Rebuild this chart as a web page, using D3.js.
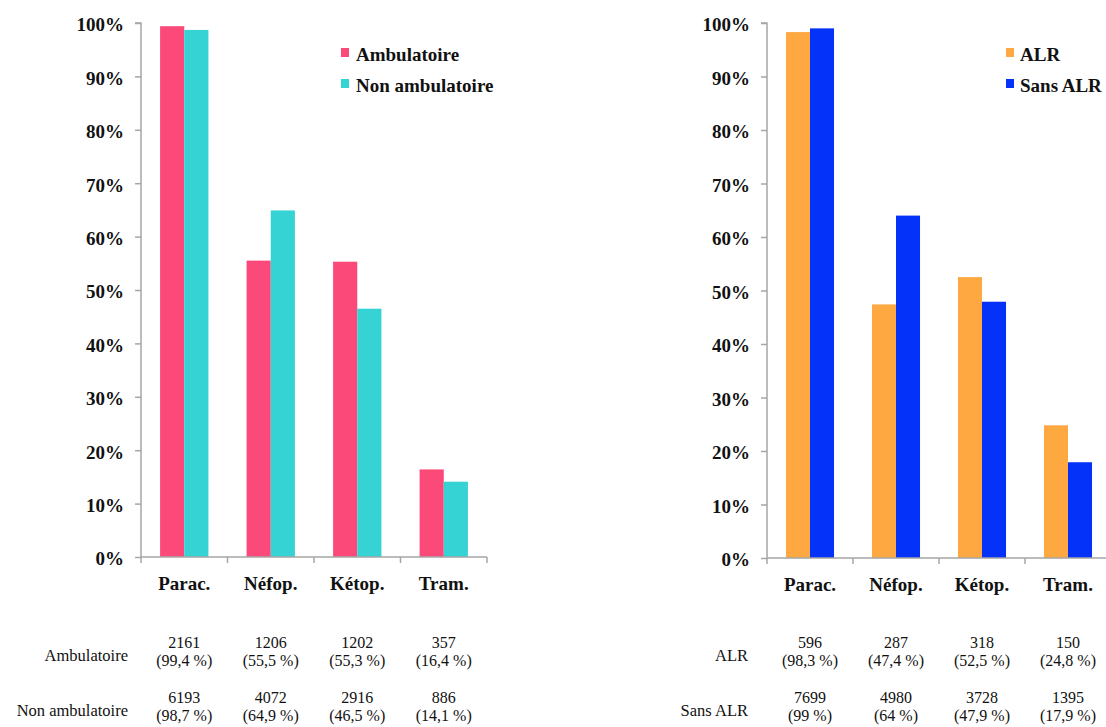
<!DOCTYPE html>
<html>
<head>
<meta charset="utf-8">
<script src="https://cdn.jsdelivr.net/npm/d3@7"></script>
<style>
  body { margin: 0; background: #fff; }
  svg text { font-family: "Liberation Serif", "Times New Roman", serif; }
</style>
</head>
<body>
<svg id="chart" width="1106" height="727"></svg>
<script>
// categories shared by both panels
const categories = ["Parac.", "Néfop.", "Kétop.", "Tram."];
const yTicks = [0, 10, 20, 30, 40, 50, 60, 70, 80, 90, 100];

// left panel
const leftSeries = ["Ambulatoire", "Non ambulatoire"];
const ambulatoirePct = [99.4, 55.5, 55.3, 16.4];
const nonAmbulatoirePct = [98.7, 64.9, 46.5, 14.1];
const ambulatoireN = [2161, 1206, 1202, 357];
const nonAmbulatoireN = [6193, 4072, 2916, 886];

// right panel
const rightSeries = ["ALR", "Sans ALR"];
const alrPct = [98.3, 47.4, 52.5, 24.8];
const sansAlrPct = [99, 64, 47.9, 17.9];
const alrN = [596, 287, 318, 150];
const sansAlrN = [7699, 4980, 3728, 1395];

const svg = d3.select("#chart");

function fmtPct(v) {
    return "(" + String(v).replace(".", ",") + " %)";
}

function drawPanel(p) {
    let g = svg.append("g");

    let x = d3.scaleBand().domain(categories).range([p.x0, p.x0 + p.band * categories.length]).paddingInner(0).paddingOuter(0);
    let inner = d3.scaleBand().domain([0, 1]).range([0, p.band]).paddingInner(0).paddingOuter(0.79);
    let y = d3.scaleLinear().domain([0, 100]).range([p.y0, p.y1]);

    // bars
    p.values.forEach((vals, s) => {
        g.selectAll(null)
            .data(vals)
            .join("rect")
            .attr("x", (d, i) => x(categories[i]) + inner(s))
            .attr("width", inner.bandwidth())
            .attr("y", d => y(d))
            .attr("height", d => y(0) - y(d))
            .attr("fill", p.colors[s]);
    });

    // y axis
    let yAxis = d3.axisLeft(y).tickValues(yTicks).tickSize(6).tickPadding(11).tickFormat(d => d + "%");
    let ya = g.append("g").attr("transform", `translate(${p.x0},0)`).call(yAxis);
    ya.select(".domain").attr("stroke", "#a6a6a6").attr("stroke-width", 1.5).attr("d", `M-6,${y(100)}H0V${y(0)}`);
    ya.selectAll(".tick line").attr("stroke", "#a6a6a6").attr("stroke-width", 1.5);
    ya.selectAll(".tick text")
        .attr("fill", "#111")
        .attr("dy", "0.42em")
        .style("font-size", "19px")
        .style("font-weight", "bold");

    // x axis, ticks on band boundaries
    let xEnd = p.x0 + p.band * categories.length;
    let xa = g.append("g");
    xa.append("line")
        .attr("x1", p.x0).attr("x2", xEnd)
        .attr("y1", y(0)).attr("y2", y(0))
        .attr("stroke", "#a6a6a6").attr("stroke-width", 1.5);
    xa.selectAll(".xt")
        .data(categories.concat([null]))
        .join("line")
        .attr("x1", (d, i) => p.x0 + i * p.band)
        .attr("x2", (d, i) => p.x0 + i * p.band)
        .attr("y1", y(0)).attr("y2", y(0) + 6)
        .attr("stroke", "#a6a6a6").attr("stroke-width", 1.5);
    xa.selectAll(".xl")
        .data(categories)
        .join("text")
        .attr("x", d => x(d) + x.bandwidth() / 2)
        .attr("y", y(0) + 33)
        .attr("text-anchor", "middle")
        .attr("fill", "#111")
        .style("font-size", "19px")
        .style("font-weight", "bold")
        .text(d => d);

    // legend
    let lg = g.append("g").attr("transform", `translate(${p.legendX},${p.legendY})`);
    p.series.forEach((name, s) => {
        lg.append("rect")
            .attr("x", 0).attr("y", s * 31 - 13)
            .attr("width", 8).attr("height", 9)
            .attr("fill", p.colors[s]);
        lg.append("text")
            .attr("x", p.legendTextDx).attr("y", s * 31)
            .attr("fill", "#111")
            .style("font-size", "19px")
            .style("font-weight", "bold")
            .text(name);
    });

    // table under the chart
    let tb = g.append("g");
    p.series.forEach((name, s) => {
        let base = p.tableY + s * 55;
        tb.append("text")
            .attr("x", p.tableLabelX).attr("y", base + 13)
            .attr("text-anchor", "end")
            .attr("fill", "#111")
            .style("font-size", "16.5px")
            .text(name);
        tb.selectAll(null)
            .data(categories)
            .join("text")
            .attr("x", d => x(d) + x.bandwidth() / 2)
            .attr("y", base)
            .attr("text-anchor", "middle")
            .attr("fill", "#111")
            .style("font-size", "16px")
            .text((d, i) => p.counts[s][i]);
        tb.selectAll(null)
            .data(categories)
            .join("text")
            .attr("x", d => x(d) + x.bandwidth() / 2)
            .attr("y", base + 18)
            .attr("text-anchor", "middle")
            .attr("fill", "#111")
            .style("font-size", "16px")
            .text((d, i) => fmtPct(p.values[s][i]));
    });
}

drawPanel({
    x0: 141, band: 86.5, y0: 557, y1: 23,
    series: leftSeries,
    values: [ambulatoirePct, nonAmbulatoirePct],
    counts: [ambulatoireN, nonAmbulatoireN],
    colors: ["#fb4a79", "#35d3d3"],
    legendX: 341, legendY: 61, legendTextDx: 15,
    tableY: 648, tableLabelX: 128
});

drawPanel({
    x0: 767, band: 86, y0: 558, y1: 23,
    series: rightSeries,
    values: [alrPct, sansAlrPct],
    counts: [alrN, sansAlrN],
    colors: ["#fda840", "#0532f8"],
    legendX: 1006, legendY: 61, legendTextDx: 14,
    tableY: 648, tableLabelX: 748
});
</script>
</body>
</html>
